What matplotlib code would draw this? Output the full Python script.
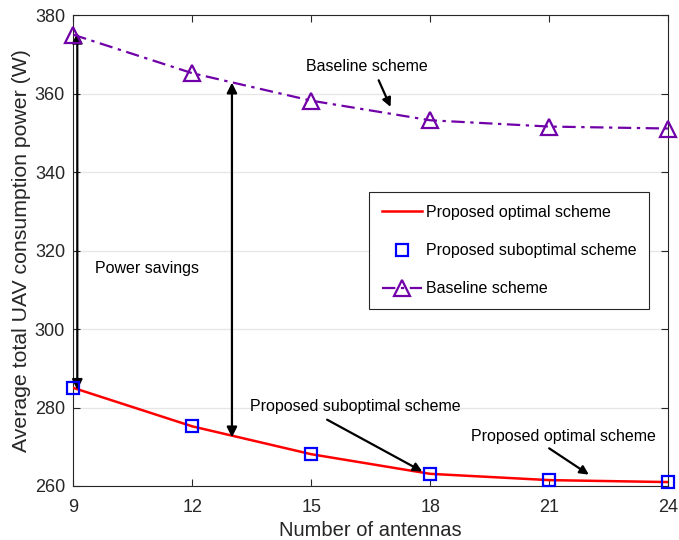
import matplotlib
matplotlib.use("Agg")
import matplotlib.pyplot as plt

plt.rcParams["font.family"] = ["Liberation Sans", "DejaVu Sans"]

antennas = [9, 12, 15, 18, 21, 24]
optimal_power = [285.0, 275.2, 268.1, 263.1, 261.5, 261.0]
suboptimal_power = [285.0, 275.2, 268.1, 263.1, 261.5, 261.0]
baseline_power = [375.0, 365.2, 358.2, 353.2, 351.6, 351.1]

x_ticks = [9, 12, 15, 18, 21, 24]
y_ticks = [260, 280, 300, 320, 340, 360, 380]

purple = "#7000a8"
ink = "#262626"

fig, ax = plt.subplots(figsize=(6.79, 5.4), dpi=100)
fig.subplots_adjust(left=0.108, right=0.984, top=0.972, bottom=0.1)

ax.plot(antennas, optimal_power, color="red", linewidth=1.8,
        label="Proposed optimal scheme", zorder=3)
ax.plot(antennas, suboptimal_power, linestyle="none", marker="s", markersize=8,
        markerfacecolor="none", markeredgecolor="blue", markeredgewidth=1.6,
        label="Proposed suboptimal scheme", zorder=4, clip_on=False)
ax.plot(antennas, baseline_power, color=purple, linestyle=(0, (6, 2.5, 1.5, 2.5)),
        linewidth=1.6, marker="^", markersize=11, markerfacecolor="none",
        markeredgecolor=purple, markeredgewidth=1.6,
        label="Baseline scheme", zorder=4, clip_on=False)

# power savings arrows
arrow_kw = dict(arrowstyle="<|-|>", color="black", lw=1.6, mutation_scale=15,
                shrinkA=0, shrinkB=0)
ax.annotate("", xy=(9.1, 375.5), xytext=(9.1, 284.5), arrowprops=arrow_kw)
ax.annotate("", xy=(13.0, 362.8), xytext=(13.0, 272.4), arrowprops=arrow_kw)
ax.text(9.55, 315.5, "Power savings", fontsize=11.5, va="center", ha="left")

one_kw = dict(arrowstyle="-|>", color="black", lw=1.6, mutation_scale=13,
              shrinkA=0, shrinkB=0)
ax.text(16.4, 366.8, "Baseline scheme", fontsize=11.5, ha="center", va="center")
ax.annotate("", xy=(17.0, 356.6), xytext=(16.7, 363.4), arrowprops=one_kw)

ax.text(16.1, 280.2, "Proposed suboptimal scheme", fontsize=11.5,
        ha="center", va="center")
ax.annotate("", xy=(17.8, 263.7), xytext=(15.4, 276.9), arrowprops=one_kw)

ax.text(21.35, 272.6, "Proposed optimal scheme", fontsize=11.5,
        ha="center", va="center")
ax.annotate("", xy=(22.0, 262.9), xytext=(21.0, 269.6), arrowprops=one_kw)

ax.set_xlim(9, 24)
ax.set_ylim(260, 380)
ax.set_xticks(x_ticks)
ax.set_yticks(y_ticks)
ax.tick_params(direction="in", top=True, right=True, labelsize=13,
               length=5, width=0.8, colors=ink)
ax.tick_params(axis="x", pad=9)
ax.tick_params(axis="y", pad=6)
ax.yaxis.grid(True, color="#e6e6e6", linewidth=0.9)
ax.set_axisbelow(True)
for s in ax.spines.values():
    s.set_color(ink)
    s.set_linewidth(0.8)

ax.set_xlabel("Number of antennas", fontsize=14.5, color=ink, labelpad=4)
ax.set_ylabel("Average total UAV consumption power (W)", fontsize=15.3,
              color=ink, labelpad=3)

leg = ax.legend(loc="upper left", bbox_to_anchor=(0.4975, 0.624), fontsize=11.5,
                fancybox=False, edgecolor=ink, framealpha=1,
                borderpad=0.8, labelspacing=1.45, handlelength=2.5,
                handletextpad=0.25, borderaxespad=0)
leg.get_frame().set_linewidth(0.8)

fig.savefig("out.png", dpi=100)
